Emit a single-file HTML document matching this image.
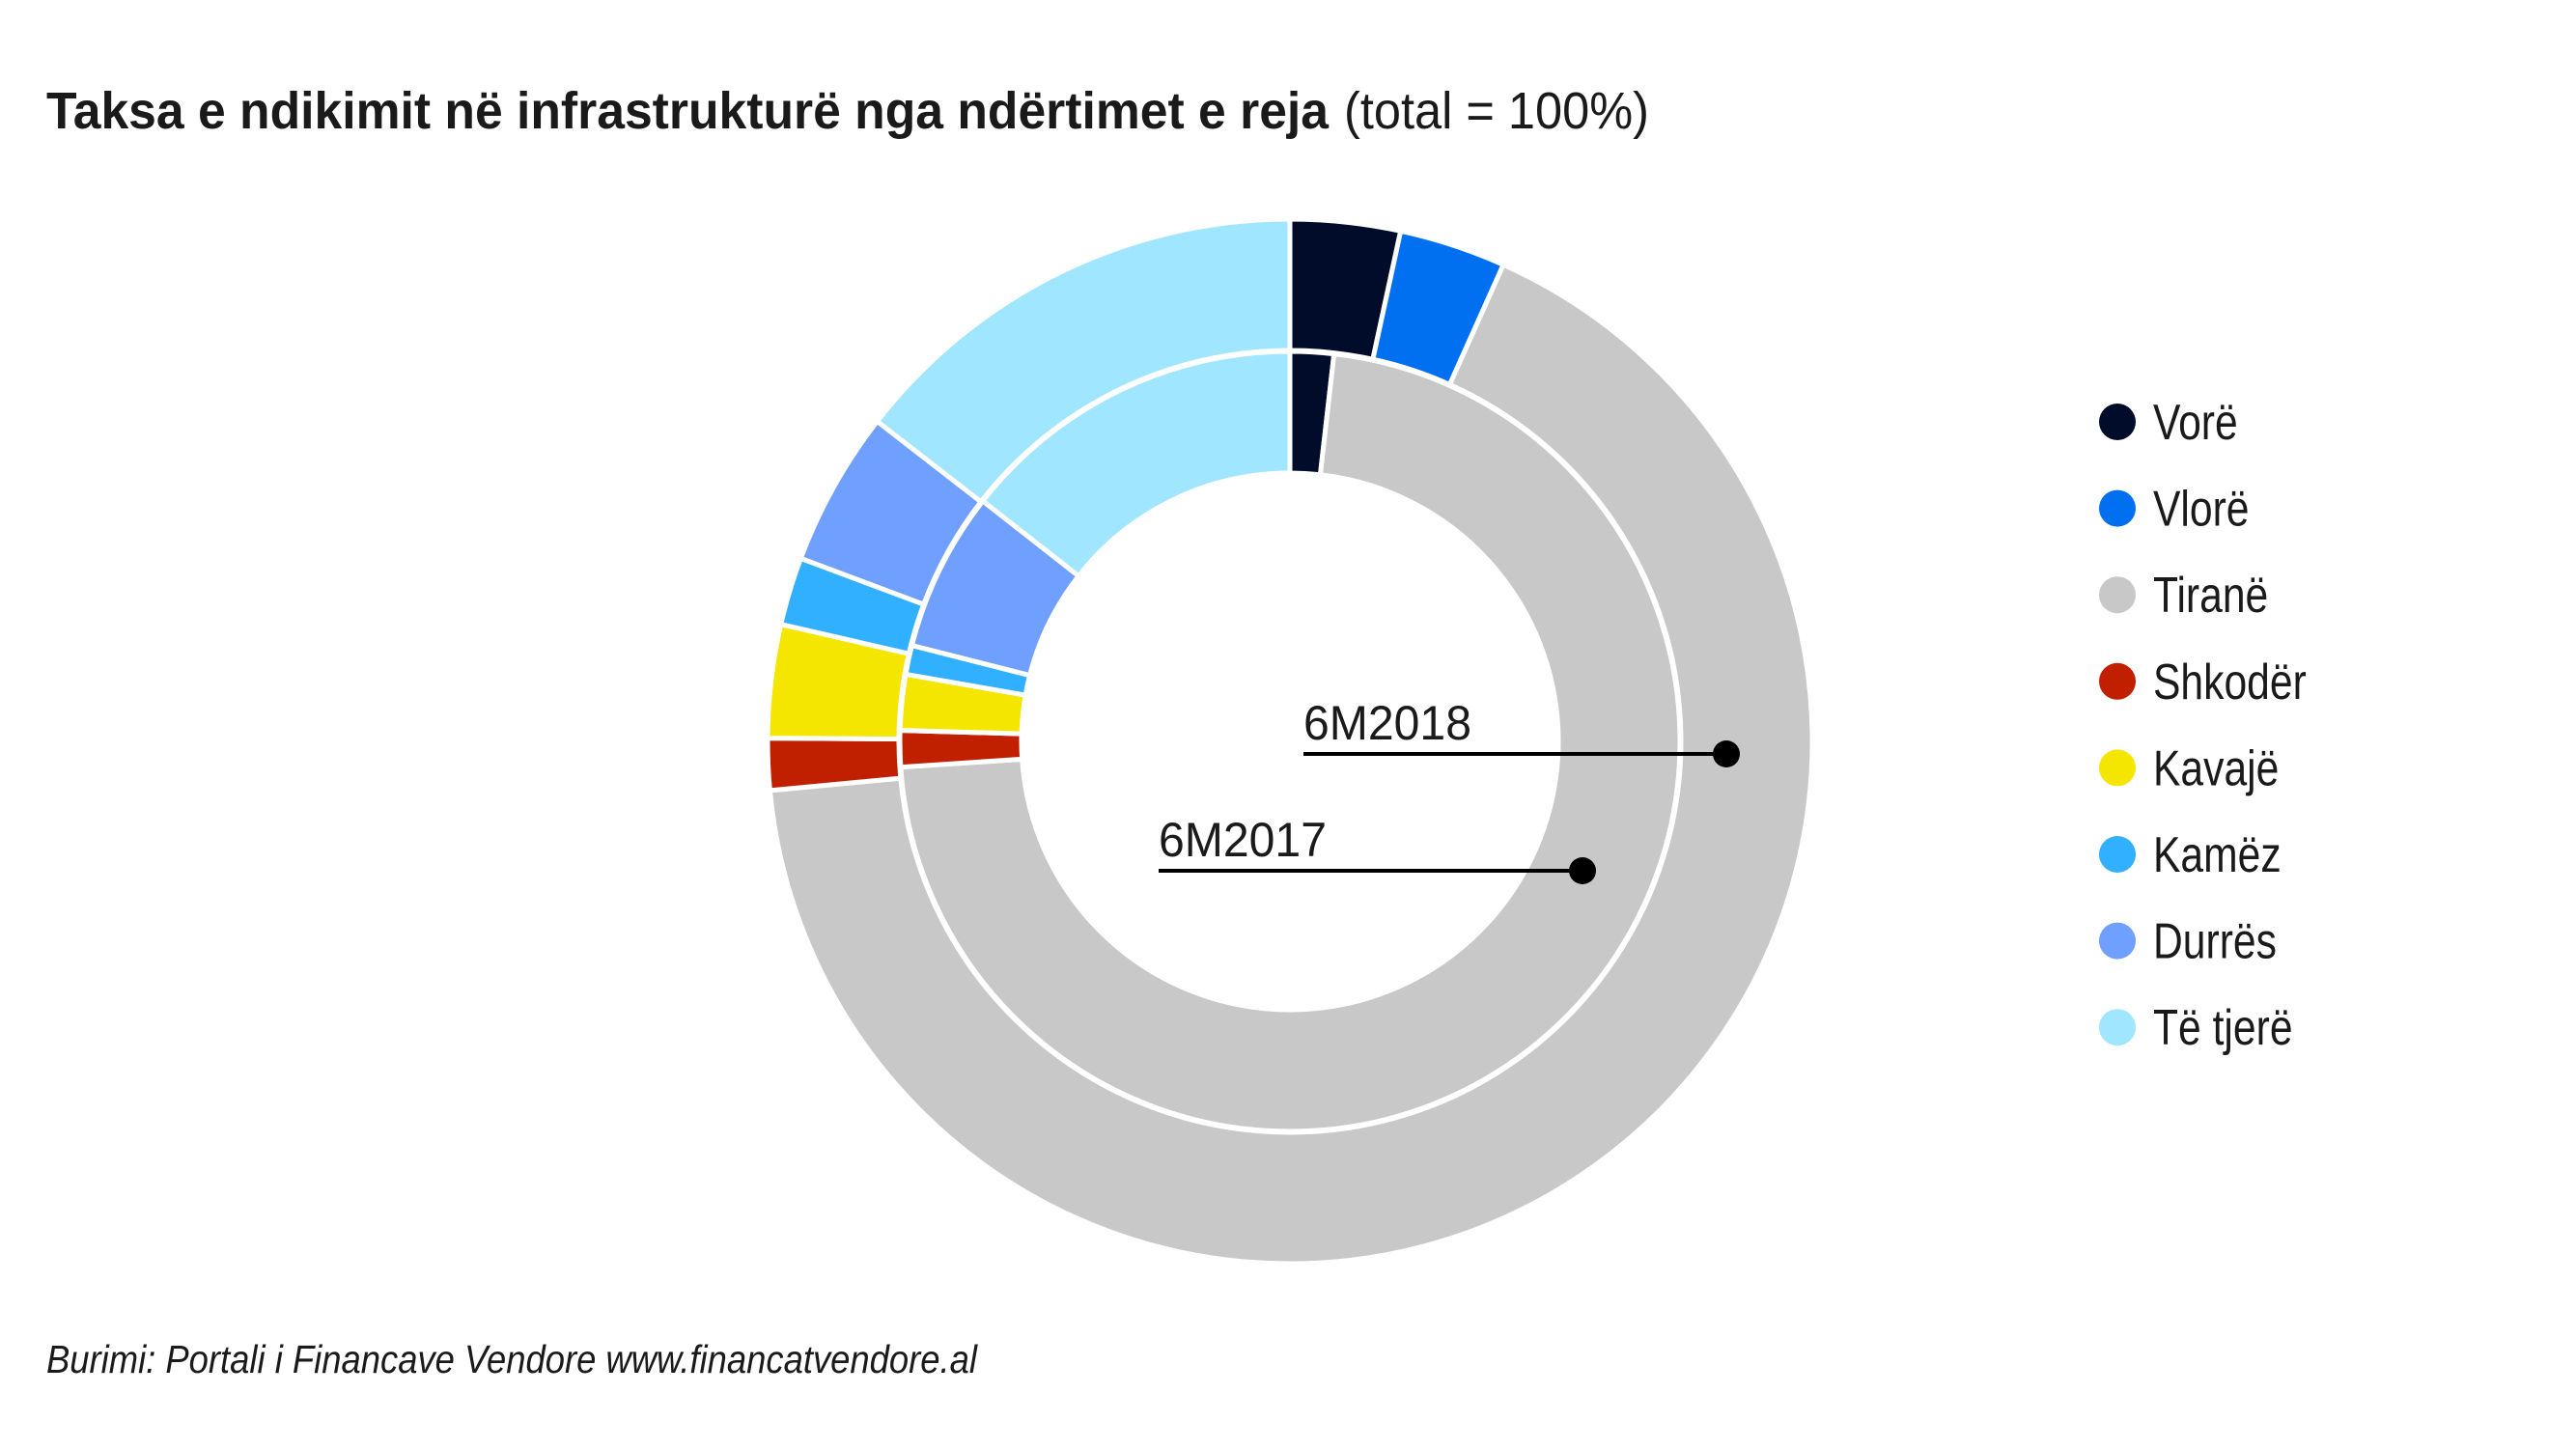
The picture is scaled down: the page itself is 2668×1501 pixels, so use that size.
<!DOCTYPE html>
<html><head><meta charset="utf-8"><style>
html,body{margin:0;padding:0;background:#fff;}
svg{display:block;font-family:"Liberation Sans",sans-serif;}
</style></head><body>
<svg id="chart" width="2668" height="1501" viewBox="0 0 2668 1501">
<text x="48" y="133" font-size="54"><tspan font-weight="bold" fill="#1a1a1a" textLength="1328" lengthAdjust="spacingAndGlyphs">Taksa e ndikimit në infrastrukturë nga ndërtimet e reja</tspan><tspan fill="#1a1a1a" dx="16" textLength="316" lengthAdjust="spacingAndGlyphs">(total = 100%)</tspan></text>
<g id="rings"></g>
<g id="annot"></g>
<g id="legend"></g>
<text x="48" y="1422" font-size="41" font-style="italic" fill="#1a1a1a" textLength="964" lengthAdjust="spacingAndGlyphs">Burimi: Portali i Financave Vendore www.financatvendore.al</text>
</svg>
<script>
const categories=["Vorë","Vlorë","Tiranë","Shkodër","Kavajë","Kamëz","Durrës","Të tjerë"];
const colors=["#000c2a","#0070f0","#c8c8c8","#c02000","#f5e600","#30b0ff","#70a0ff","#a0e6ff"];
const values2018=[3.4,3.3,66.8,1.6,3.5,2.1,4.8,14.5];
const values2017=[1.8,0,72.0,1.5,2.3,1.2,6.6,14.4];
const ringLabels=["6M2018","6M2017"];
const NS="http://www.w3.org/2000/svg";
const cx=1336,cy=768;
function pt(r,a){const t=a*Math.PI/180;return [cx+r*Math.sin(t),cy-r*Math.cos(t)];}
function arc(r0,r1,a0,a1){
  const l=(a1-a0)>180?1:0;
  const p1=pt(r1,a0),p2=pt(r1,a1),p3=pt(r0,a1),p4=pt(r0,a0);
  return `M${p1[0]},${p1[1]}A${r1},${r1} 0 ${l} 1 ${p2[0]},${p2[1]}L${p3[0]},${p3[1]}A${r0},${r0} 0 ${l} 0 ${p4[0]},${p4[1]}Z`;
}
const rings=document.getElementById('rings');
function drawRing(vals,r0,r1,tag){
  const tot=vals.reduce((a,b)=>a+b,0);let a=0;
  vals.forEach((v,i)=>{
    if(v<=0)return;
    const a1=a+v/tot*360;
    const p=document.createElementNS(NS,'path');
    p.setAttribute('d',arc(r0,r1,a,a1));
    p.setAttribute('fill',colors[i]);
    p.setAttribute('stroke','#fff');p.setAttribute('stroke-width','5');
    
    
    rings.appendChild(p);a=a1;
  });
}
drawRing(values2018,405,541,'2018');
drawRing(values2017,278,404,'2017');
const an=document.getElementById('annot');
const ann=[[1350,1788,781],[1200,1639,902]];
ringLabels.forEach((lab,i)=>{
  const [x0,x1,y]=ann[i];
  const g=document.createElementNS(NS,'g');
  
  
  g.innerHTML=`<text x="${x0}" y="${y-15}" font-size="50" fill="#1a1a1a" textLength="174" lengthAdjust="spacingAndGlyphs">${lab}</text><line x1="${x0}" y1="${y}" x2="${x1}" y2="${y}" stroke="#000" stroke-width="4"/><circle cx="${x1}" cy="${y}" r="14" fill="#000"/>`;
  an.appendChild(g);
});
const lg=document.getElementById('legend');
categories.forEach((c,i)=>{
  const y=437+89.6*i;
  const g=document.createElementNS(NS,'g');
  
  
  g.innerHTML=`<circle cx="2193" cy="${y}" r="19" fill="${colors[i]}"/><text x="2230" y="${y+18}" font-size="52" fill="#1a1a1a" transform="translate(2230 0) scale(0.82 1) translate(-2230 0)">${c}</text>`;
  lg.appendChild(g);
});
</script>
</body></html>
